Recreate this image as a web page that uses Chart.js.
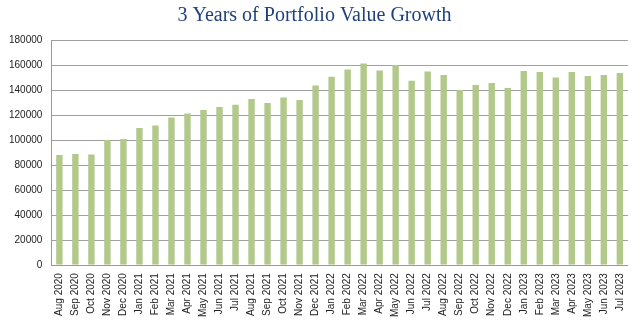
<!DOCTYPE html>
<html>
<head>
<meta charset="utf-8">
<script src="https://cdn.jsdelivr.net/npm/chart.js@4/dist/chart.umd.min.js"></script>
<style>
html,body{margin:0;padding:0;background:#fff;}
#wrap{width:640px;height:328px;position:relative;}
</style>
</head>
<body>
<div id="wrap"><canvas id="c" width="640" height="328"></canvas></div>
<script>
const categories = [
  "Aug 2020","Sep 2020","Oct 2020","Nov 2020","Dec 2020",
  "Jan 2021","Feb 2021","Mar 2021","Apr 2021","May 2021","Jun 2021","Jul 2021","Aug 2021","Sep 2021","Oct 2021","Nov 2021","Dec 2021",
  "Jan 2022","Feb 2022","Mar 2022","Apr 2022","May 2022","Jun 2022","Jul 2022","Aug 2022","Sep 2022","Oct 2022","Nov 2022","Dec 2022",
  "Jan 2023","Feb 2023","Mar 2023","Apr 2023","May 2023","Jun 2023","Jul 2023"
];
const portfolioValues = [
  88000, 88800, 88500, 100000, 100800,
  109600, 111700, 118100, 121300, 124000, 126400, 128300, 132800, 129600, 134100, 132000, 143700,
  150700, 156500, 161300, 155700, 160000, 147500, 154800, 152000, 140000, 144000, 145600, 141600,
  155200, 154400, 150000, 154400, 151200, 152000, 153600
];
const yTicks = [0,20000,40000,60000,80000,100000,120000,140000,160000,180000];
const titleText = "3 Years of Portfolio Value Growth";

new Chart(document.getElementById('c'), {
  type: 'bar',
  data: {
    labels: categories,
    datasets: [{
      label: 'Portfolio Value',
      data: portfolioValues,
      backgroundColor: '#B2C98B',
      borderWidth: 0,
      categoryPercentage: 1.0,
      barPercentage: 0.4
    }]
  },
  options: {
    responsive: false,
    animation: false,
    layout: { padding: { left: 0, right: 11, top: 4, bottom: 3 } },
    plugins: {
      legend: { display: false },
      tooltip: { enabled: false },
      title: {
        display: true,
        text: titleText,
        color: '#1F3F7A',
        font: { family: 'Liberation Serif', size: 20, weight: 'normal' },
        padding: { top: 0, bottom: 12 }
      }
    },
    scales: {
      x: {
        grid: { display: false, drawTicks: false },
        border: { display: true, color: '#999999' },
        ticks: {
          color: '#222',
          font: { family: 'Liberation Sans', size: 10 },
          maxRotation: 90, minRotation: 90,
          autoSkip: false,
          padding: 8
        }
      },
      y: {
        min: 0, max: 180000,
        afterBuildTicks: (axis) => { axis.ticks = yTicks.map(v => ({ value: v })); },
        grid: { color: '#A0A0A0', lineWidth: 1, drawTicks: false },
        border: { display: true, color: '#999999' },
        ticks: {
          color: '#222',
          font: { family: 'Liberation Sans', size: 10 },
          padding: 9,
          callback: (v) => String(v)
        }
      }
    }
  }
});
</script>
</body>
</html>
